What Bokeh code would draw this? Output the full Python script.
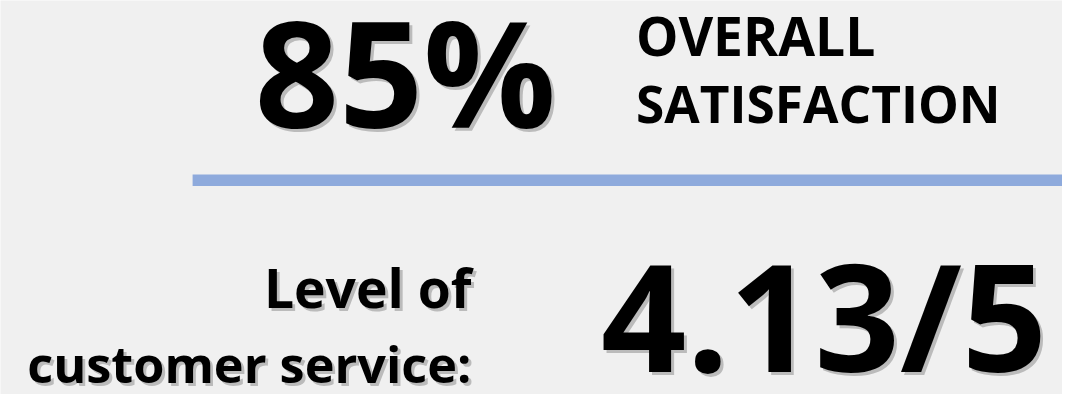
from bokeh.plotting import figure
from bokeh.models import Range1d
from bokeh.core.properties import value
from bokeh.embed import file_html
from bokeh.resources import INLINE

# ---- data ----
overall_pct = [85]
overall_label = ["OVERALL", "SATISFACTION"]
service_label = ["Level of", "customer service:"]
service_score = [4.13]
service_max = [5]

BG = "#f0f0f0"
FONT = value("Open Sans")

W, H = 1062, 394
REF_W, REF_H = 1078, 410
SY = H / REF_H
K = 0.97          # font scale
BASE_FIX = 0.38   # empirical baseline correction (em)

p = figure(width=W, height=H, output_backend="svg", toolbar_location=None,
           x_range=Range1d(0, REF_W), y_range=Range1d(REF_H, 0), min_border=0)
p.axis.visible = False
p.grid.visible = False
p.outline_line_color = None
p.background_fill_color = BG
p.border_fill_color = BG

def shadow_text(x, y, txt, size, align, shadow=True):
    px = size * K
    y = y - BASE_FIX * px / SY
    if shadow:
        p.text(x=[x + 3], y=[y + 3], text=[txt], text_font=FONT, text_font_style="bold",
               text_font_size=f"{px:.1f}px", text_align=align, text_baseline="alphabetic",
               text_color="#7a7a7a", text_alpha=0.45)
    p.text(x=[x], y=[y], text=[txt], text_font=FONT, text_font_style="bold",
           text_font_size=f"{px:.1f}px", text_align=align, text_baseline="alphabetic",
           text_color="#000000")

# big percentage
shadow_text(411, 131, f"{overall_pct[0]}%", 152, "center")
# overall label
shadow_text(645, 58, overall_label[0], 55, "left", shadow=False)
shadow_text(645, 127, overall_label[1], 53, "left", shadow=False)

# divider
p.quad(left=[195], right=[1080], top=[181], bottom=[193], fill_color="#8eaadc", line_color=None)

# service label
shadow_text(478, 320, service_label[0], 55, "right")
shadow_text(478, 398, service_label[1], 52, "right")
# score
shadow_text(836, 385, f"{service_score[0]:.2f}/{service_max[0]}", 154, "center")

open("out.html", "w").write(file_html(p, INLINE))
